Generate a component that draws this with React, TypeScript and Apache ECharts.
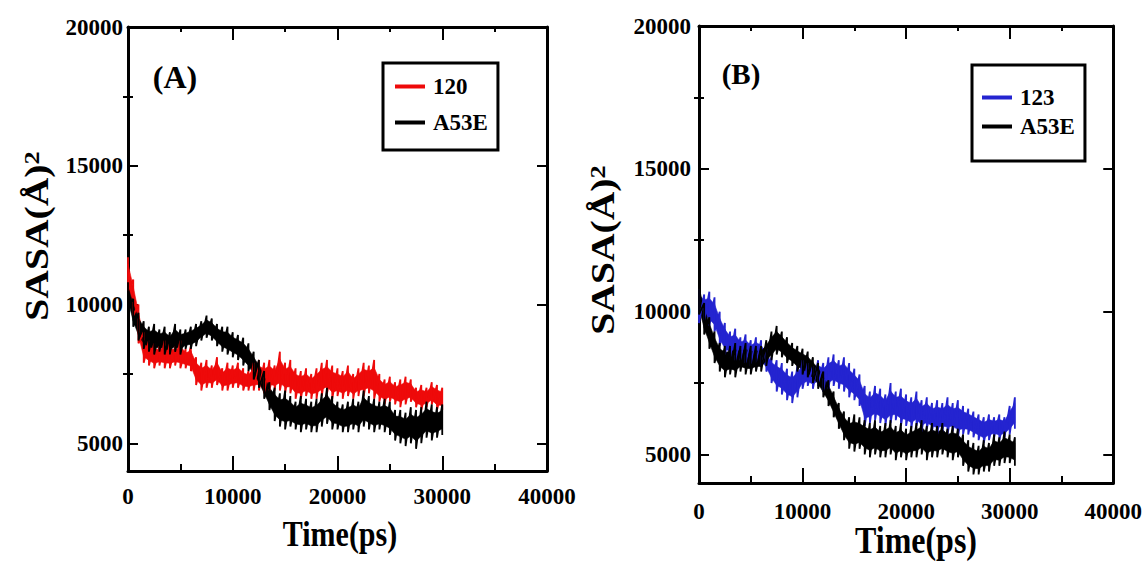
import React, { useEffect, useRef } from "react";
import * as echarts from "echarts";

// ---------- data ----------
const X_TICKS = [0, 10000, 20000, 30000, 40000];
const Y_MAJOR = [5000, 10000, 15000, 20000];
const Y_MINOR = [7500, 12500, 17500];

// Panel A: sampled every 500 ps; each sample has an upper and lower value of the noisy trace
const TIME_A = [
  0, 500, 1000, 1500, 2000, 2500, 3000, 3500, 4000, 4500, 5000, 5500, 6000, 6500, 7000, 7500,
  8000, 8500, 9000, 9500, 10000, 10500, 11000, 11500, 12000, 12500, 13000, 13500, 14000, 14500,
  15000, 15500, 16000, 16500, 17000, 17500, 18000, 18500, 19000, 19500, 20000, 20500, 21000,
  21500, 22000, 22500, 23000, 23500, 24000, 24500, 25000, 25500, 26000, 26500, 27000, 27500,
  28000, 28500, 29000, 29500, 30000,
];
const A_120_HI = [
  11700, 10900, 10000, 9000, 8700, 8600, 8500, 8700, 8600, 8500, 8700, 8400, 8500, 8100, 7900,
  8000, 7800, 8100, 7700, 7900, 7800, 7900, 7700, 7600, 7900, 8000, 7900, 8000, 7800, 8300, 7900,
  8000, 7700, 7600, 7700, 7500, 7700, 7900, 8000, 7800, 7700, 7600, 7800, 7500, 7700, 7900, 7800,
  8000, 7500, 7300, 7400, 7200, 7300, 7400, 7300, 7000, 7100, 7000, 7200, 7100, 7000,
];
const A_120_LO = [
  10500, 9600, 8600, 7900, 7800, 7700, 7800, 7700, 7700, 7800, 7700, 7700, 7600, 7100, 6900, 7000,
  7000, 7100, 6900, 6900, 7000, 7000, 6900, 6900, 6900, 6900, 6800, 6900, 6900, 6900, 6800, 6800,
  6600, 6600, 6700, 6600, 6600, 6700, 6800, 6600, 6700, 6600, 6700, 6600, 6700, 6700, 6800, 6600,
  6500, 6400, 6500, 6400, 6300, 6400, 6500, 6300, 6200, 6300, 6400, 6200, 6200,
];
const A_A53E_HI = [
  10800, 10200, 9700, 9400, 9200, 9300, 9100, 9200, 9000, 9300, 9100, 9100, 9200, 9300, 9400, 9600,
  9500, 9300, 9200, 9200, 9000, 8900, 8800, 8600, 8300, 8000, 7600, 7200, 7000, 6800, 6900, 6700,
  6500, 6700, 6600, 6500, 6600, 6800, 7000, 6700, 6500, 6400, 6500, 6600, 6500, 6900, 6700, 6600,
  6500, 6600, 6500, 6200, 6200, 6100, 6300, 6200, 6300, 6500, 6400, 6300, 6400,
];
const A_A53E_LO = [
  10000, 9200, 8700, 8400, 8300, 8200, 8300, 8200, 8200, 8300, 8200, 8400, 8400, 8500, 8700, 8800,
  8700, 8500, 8300, 8200, 8100, 8000, 7800, 7600, 7300, 7000, 6600, 6200, 5800, 5600, 5500, 5600,
  5500, 5400, 5500, 5400, 5400, 5600, 5700, 5500, 5500, 5400, 5400, 5500, 5400, 5600, 5500, 5400,
  5500, 5400, 5300, 5100, 5000, 4900, 5000, 4800, 5000, 5200, 5100, 5200, 5300,
];

// Panel B
const TIME_B = [
  0, 500, 1000, 1500, 2000, 2500, 3000, 3500, 4000, 4500, 5000, 5500, 6000, 6500, 7000, 7500,
  8000, 8500, 9000, 9500, 10000, 10500, 11000, 11500, 12000, 12500, 13000, 13500, 14000, 14500,
  15000, 15500, 16000, 16500, 17000, 17500, 18000, 18500, 19000, 19500, 20000, 20500, 21000,
  21500, 22000, 22500, 23000, 23500, 24000, 24500, 25000, 25500, 26000, 26500, 27000, 27500,
  28000, 28500, 29000, 29500, 30000, 30500,
];
const B_123_HI = [
  10800, 10600, 10700, 10500, 10000, 9600, 9300, 9400, 9100, 9200, 9000, 9100, 9000, 8700, 8400,
  8300, 8200, 8000, 7900, 8100, 8300, 8200, 8100, 8300, 8200, 8400, 8500, 8300, 8400, 8200, 8000,
  7800, 7400, 7200, 7400, 7300, 7100, 7500, 7200, 7300, 7100, 7000, 7200, 6900, 7000, 6800, 6900,
  6800, 7000, 6800, 6900, 6700, 6600, 6500, 6400, 6300, 6400, 6300, 6400, 6300, 6700, 7000,
];
const B_123_LO = [
  9600, 9700, 9500, 9300, 8800, 8500, 8400, 8300, 8300, 8200, 8100, 8200, 8100, 7900, 7500, 7200,
  7100, 6900, 6800, 7000, 7300, 7400, 7300, 7400, 7200, 7300, 7400, 7300, 7200, 7000, 6900, 6700,
  6000, 6100, 6200, 6100, 6000, 6100, 6200, 6000, 6000, 5900, 6000, 5800, 5900, 5800, 5700, 5800,
  5700, 5800, 5600, 5700, 5700, 5600, 5500, 5400, 5500, 5600, 5500, 5600, 5700, 5900,
];
const B_A53E_HI = [
  11100, 10300, 9800, 9300, 8900, 8800, 8800, 8900, 8800, 8900, 8800, 8800, 8800, 9000, 9300, 9500,
  9300, 9100, 8900, 8800, 8700, 8600, 8400, 8200, 7900, 7600, 7200, 6800, 6500, 6300, 6400, 6300,
  6200, 6100, 6200, 6000, 6100, 6200, 6000, 6100, 5900, 6000, 6100, 6200, 6000, 6100, 6000, 6100,
  5900, 6000, 5900, 5700, 5500, 5400, 5300, 5500, 5400, 5700, 5600, 5800, 5700, 5600,
];
const B_A53E_LO = [
  9900, 9200, 8700, 8200, 7900, 7700, 7800, 7700, 7900, 7800, 7800, 7900, 7900, 8100, 8300, 8500,
  8400, 8200, 8100, 7900, 7800, 7700, 7500, 7300, 7000, 6700, 6300, 5900, 5500, 5200, 5100, 5200,
  5000, 4900, 5000, 4900, 4900, 5000, 4800, 4900, 4800, 4900, 4900, 5000, 4800, 4900, 4900, 5000,
  4900, 4800, 4900, 4600, 4400, 4300, 4300, 4400, 4400, 4600, 4600, 4700, 4700, 4600,
];

// ---------- styling ----------
const FONT = "'Liberation Serif', 'Times New Roman', serif";
const RED = "#ee0a0a";
const BLUE = "#2424d0";
const BLACK = "#000000";
const CORE = 0.6; // share of the band drawn as a solid core (the rest shows as spiky edges)

// noisy trace: alternate between upper and lower value at each sample time
function trace(t: number[], hi: number[], lo: number[]) {
  const out: number[][] = [];
  for (let i = 0; i < t.length; i++) {
    out.push([t[i], hi[i]]);
    out.push([t[i], lo[i]]);
  }
  return out;
}

const plainNum = (v: number) => String(v);

function xAxes(gi: number, labelMargin: number) {
  const common = {
    gridIndex: gi,
    type: "value" as const,
    min: 0,
    max: 40000,
    interval: 10000,
    splitLine: { show: false },
    minorSplitLine: { show: false },
    axisLine: { show: true, onZero: false, lineStyle: { color: BLACK, width: 3 } },
    axisTick: { show: true, inside: true, length: 15, lineStyle: { color: BLACK, width: 2 } },
    minorTick: { show: true, splitNumber: 2, length: 7, lineStyle: { color: BLACK, width: 2 } },
  };
  return [
    {
      ...common,
      position: "bottom",
      axisLabel: {
        show: true,
        customValues: X_TICKS,
        formatter: plainNum,
        fontFamily: FONT,
        fontWeight: "bold",
        fontSize: 23,
        color: BLACK,
        margin: labelMargin,
      },
    },
    {
      ...common,
      position: "top",
      axisLabel: { show: false },
      axisTick: { ...common.axisTick, length: 13 },
      minorTick: { ...common.minorTick, length: 5 },
    },
  ];
}

function yAxes(gi: number, labelMargin: number) {
  const base = {
    gridIndex: gi,
    type: "value" as const,
    min: 4000,
    max: 20000,
    splitLine: { show: false },
  };
  const line = { show: true, onZero: false, lineStyle: { color: BLACK, width: 3 } };
  const tickStyle = { color: BLACK, width: 2 };
  return [
    {
      ...base,
      position: "left",
      axisLine: line,
      axisTick: { show: true, inside: true, length: 10, customValues: Y_MAJOR, lineStyle: tickStyle },
      axisLabel: {
        show: true,
        customValues: Y_MAJOR,
        formatter: plainNum,
        fontFamily: FONT,
        fontWeight: "bold",
        fontSize: 23,
        color: BLACK,
        margin: labelMargin,
      },
    },
    {
      ...base,
      position: "left",
      axisLine: { show: false },
      axisTick: { show: true, inside: true, length: 5, customValues: Y_MINOR, lineStyle: tickStyle },
      axisLabel: { show: false },
    },
    {
      ...base,
      position: "right",
      axisLine: line,
      axisTick: { show: true, inside: true, length: 10, customValues: Y_MAJOR, lineStyle: tickStyle },
      axisLabel: { show: false },
    },
    {
      ...base,
      position: "right",
      axisLine: { show: false },
      axisTick: { show: true, inside: true, length: 5, customValues: Y_MINOR, lineStyle: tickStyle },
      axisLabel: { show: false },
    },
  ];
}

// one noisy trace = solid core of the band (custom series) + jagged line reaching the upper/lower values
function traceSeries(name: string, color: string, xi: number, yi: number, t: number[], hi: number[], lo: number[]) {
  const coreHi = (i: number) => (hi[i] + lo[i]) / 2 + ((hi[i] - lo[i]) / 2) * CORE;
  const coreLo = (i: number) => (hi[i] + lo[i]) / 2 - ((hi[i] - lo[i]) / 2) * CORE;
  const band = {
    name: "__core_" + name + xi,
    type: "custom",
    xAxisIndex: xi,
    yAxisIndex: yi,
    silent: true,
    data: t.map((x, i) => [x, hi[i], lo[i]]),
    encode: { x: 0, y: [1, 2] },
    renderItem: (params: any, api: any) => {
      const i = params.dataIndex;
      if (i >= t.length - 1) return null;
      const p1 = api.coord([t[i], coreHi(i)]);
      const p2 = api.coord([t[i + 1], coreHi(i + 1)]);
      const p3 = api.coord([t[i + 1], coreLo(i + 1)]);
      const p4 = api.coord([t[i], coreLo(i)]);
      return {
        type: "polygon",
        shape: { points: [p1, p2, p3, p4] },
        style: { fill: color, stroke: color, lineWidth: 0.6 },
      };
    },
  };
  const line = {
    name,
    type: "line",
    xAxisIndex: xi,
    yAxisIndex: yi,
    data: trace(t, hi, lo),
    symbol: "none",
    color,
    itemStyle: { color },
    lineStyle: { color, width: 1.8 },
    emphasis: { disabled: true },
    silent: true,
  };
  return [band, line];
}

function legendBox(names: string[], left: number, top: number, gap: number, padding: number[]) {
  return {
    data: names,
    left,
    top,
    orient: "vertical",
    icon: "rect",
    itemWidth: 30,
    itemHeight: 4,
    itemGap: gap,
    padding,
    borderColor: BLACK,
    borderWidth: 3,
    backgroundColor: "#fff",
    selectedMode: false,
    textStyle: { fontFamily: FONT, fontWeight: "bold", fontSize: 23, color: BLACK, padding: [0, 0, 0, 3] },
  };
}

function textEl(text: string, x: number, y: number, size: number, extra: any = {}) {
  return {
    type: "text",
    x,
    y,
    ...extra,
    style: {
      text,
      fontFamily: FONT,
      fontWeight: "bold",
      fontSize: size,
      fill: BLACK,
      align: "center",
      verticalAlign: "middle",
    },
  };
}

function yTitle(x: number, y: number) {
  return {
    type: "text",
    x,
    y,
    rotation: Math.PI / 2,
    scaleX: 1.2,
    style: {
      text: "{m|SASA(Å)}{s|2}",
      align: "center",
      verticalAlign: "middle",
      fill: BLACK,
      rich: {
        m: { fontFamily: FONT, fontWeight: "bold", fontSize: 33, fill: BLACK },
        s: { fontFamily: FONT, fontWeight: "bold", fontSize: 22, fill: BLACK, verticalAlign: "top" },
      },
    },
  };
}

export default function App() {
  const ref = useRef<HTMLDivElement>(null);

  useEffect(() => {
    if (!ref.current) return;
    const chart = echarts.init(ref.current, undefined, { renderer: "svg" });
    const option: any = {
      animation: false,
      backgroundColor: "#ffffff",
      grid: [
        { left: 128, top: 27, width: 419, height: 444, containLabel: false },
        { left: 699, top: 26, width: 419, height: 457, containLabel: false },
      ],
      xAxis: [...xAxes(0, 14), ...xAxes(1, 17)],
      yAxis: [...yAxes(0, 5), ...yAxes(1, 8)],
      legend: [
        legendBox(["120", "A53E"], 383, 63, 13, [12, 10, 16, 12]),
        legendBox(["123", "A53E"], 972, 65, 6, [21, 10, 23, 10]),
      ],
      series: [
        ...traceSeries("120", RED, 0, 0, TIME_A, A_120_HI, A_120_LO),
        ...traceSeries("A53E", BLACK, 0, 0, TIME_A, A_A53E_HI, A_A53E_LO),
        ...traceSeries("123", BLUE, 2, 4, TIME_B, B_123_HI, B_123_LO),
        ...traceSeries("A53E", BLACK, 2, 4, TIME_B, B_A53E_HI, B_A53E_LO),
      ],
      graphic: [
        textEl("(A)", 175, 77, 32),
        textEl("(B)", 741, 74, 29),
        textEl("Time(ps)", 340, 534, 30, { scaleY: 1.2 }),
        textEl("Time(ps)", 916, 541, 32, { scaleY: 1.2 }),
        yTitle(37, 236),
        yTitle(603, 250),
      ],
    };
    chart.setOption(option);
    return () => chart.dispose();
  }, []);

  return (
    <div
      ref={ref}
      style={{ position: "absolute", left: 0, top: 0, width: 1145, height: 565, background: "#fff" }}
    />
  );
}
